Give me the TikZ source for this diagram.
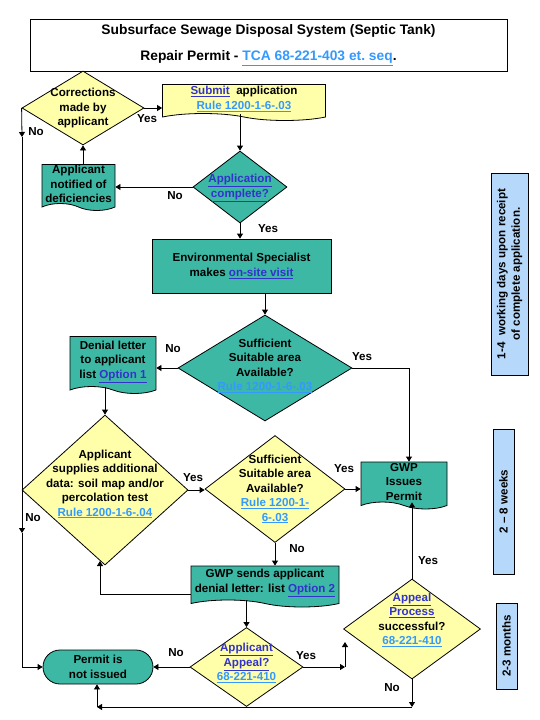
\documentclass[tikz,border=0pt]{standalone}
\usepackage{fontspec}
\setmainfont{Liberation Sans}
\usetikzlibrary{shapes.geometric,shapes.symbols,shapes.misc,arrows.meta}

\definecolor{tealbox}{RGB}{60,184,164}
\definecolor{yellowdia}{RGB}{255,255,170}
\definecolor{bluebar}{RGB}{182,216,250}
\definecolor{linkdark}{RGB}{51,51,204}
\definecolor{linklight}{RGB}{51,153,255}

\newcommand{\dlink}[1]{\textcolor{linkdark}{\underline{#1}}}
\newcommand{\llink}[1]{\textcolor{linklight}{\underline{#1}}}

\begin{document}
\begin{tikzpicture}[x=1pt,y=1pt,
    box/.style={draw=black, fill=tealbox, line width=0.8pt, align=center},
    doc/.style={tape, tape bend top=none, tape bend bottom=out and in, tape bend height=7pt,
                draw=black, fill=#1, line width=0.8pt, align=center},
    doc/.default=tealbox,
    ydia/.style={diamond, draw=black, fill=yellowdia, line width=0.8pt},
    tdia/.style={diamond, draw=black, fill=tealbox, line width=0.8pt},
    bar/.style={draw=black, fill=bluebar, line width=0.8pt, rotate=90, align=center},
    arr/.style={-{Triangle[length=5pt,width=6pt]}, line width=0.8pt}]
    \tikzstyle{every node}+=[inner sep=0pt, font=\bfseries\fontsize{11.6}{14.5}\selectfont]
    \useasboundingbox (0,0) rectangle (540,-720);

    \node [draw, line width=0.8pt, minimum width=477pt, minimum height=52pt, align=center,
           font=\bfseries\fontsize{13.8}{26}\selectfont] (title) at (268.5,-45)
          {Subsurface Sewage Disposal System (Septic Tank)\\Repair Permit - \llink{TCA 68-221-403 et.~seq}.};

    \node [ydia, minimum width=122pt, minimum height=74pt,
           label={[align=center]center:Corrections\\made by\\applicant}] (corr) at (83,-108) {};
    \node [doc=yellowdia, minimum width=163pt, minimum height=36pt] (sub) at (244,-99)
          {\dlink{Submit}\ \ application\\\llink{Rule 1200-1-6-.03}};
    \node [tdia, minimum width=94pt, minimum height=72pt,
           label={[align=center,yshift=-1pt]center:\dlink{Application}\\\dlink{complete?}}] (appc) at (240,-187) {};
    \node [doc, minimum width=73pt, minimum height=46pt] (notif) at (78.5,-184)
          {Applicant\\notified of\\deficiencies};
    \node [box, minimum width=179pt, minimum height=54pt] (env) at (241.5,-266)
          {Environmental Specialist\\makes \dlink{on-site visit}};
    \node [tdia, minimum width=174pt, minimum height=106pt,
           label={[align=center,yshift=2pt]center:Sufficient\\Suitable area\\Available?\\\llink{Rule 1200-1-6-.03}}] (suff) at (265,-368) {};
    \node [doc, minimum width=86pt, minimum height=57pt] (denial) at (113,-361.5)
          {Denial letter\\to applicant\\list \dlink{Option 1}};
    \node [ydia, minimum width=166pt, minimum height=150pt,
           label={[align=center,yshift=6pt]center:Applicant\\supplies additional\\data: soil map and/or\\percolation test\\\llink{Rule 1200-1-6-.04}}] (supply) at (105,-490) {};
    \node [ydia, minimum width=140pt, minimum height=107pt,
           label={[align=center]center:Sufficient\\Suitable area\\Available?\\\llink{Rule 1200-1-}\\\llink{6-.03}}] (suffb) at (275,-489) {};
    \node [doc, minimum width=86pt, minimum height=47pt] (issue) at (404,-482)
          {GWP\\Issues\\Permit};
    \node [doc, minimum width=148pt, minimum height=41pt] (send) at (265,-583)
          {GWP sends applicant\\denial letter: list \dlink{Option 2}};
    \node [ydia, minimum width=113pt, minimum height=79pt,
           label={[align=center,yshift=4pt]center:\dlink{Applicant}\\\dlink{Appeal?}\\\llink{68-221-410}}] (appeal) at (246.5,-667) {};
    \node [rounded rectangle, draw=black, fill=tealbox, line width=0.8pt, align=center,
           minimum width=110pt, minimum height=34pt] (permit) at (98,-667)
          {Permit is\\not issued};
    \node [ydia, minimum width=137pt, minimum height=100pt,
           label={[align=center,yshift=9pt]center:\dlink{Appeal}\\\dlink{Process}\\successful?\\\llink{68-221-410}}] (proc) at (412,-629) {};

    \node [bar, minimum width=202pt, minimum height=37pt] (days) at (509.5,-274)
          {1-4\ \ working days upon receipt\\of complete application.};
    \node [bar, minimum width=145pt, minimum height=21pt] (weeks) at (503.5,-501.5)
          {2 -- 8 weeks};
    \node [bar, minimum width=86pt, minimum height=21pt] (months) at (506.5,-646)
          {2-3 months};

    \coordinate (n1) at (22,-137);
    \coordinate (n2) at (22,-533);
    \coordinate (s1) at (100,-561);
    \coordinate (a1) at (345,-667);
    \coordinate (a2) at (345,-642);
    \coordinate (b1) at (412,-707);
    \coordinate (b2) at (97,-707);

    \draw [arr] (corr.east) -- (sub.west |- corr.east);
    \node (yescs) at (147,-119) {Yes};
    \draw [arr] (appc.north |- sub.south) -- (appc.north);
    \draw [arr] (appc.west) -- (notif.east |- appc.west);
    \node (noan) at (175,-196) {No};
    \draw [arr] (corr.south |- notif.north) -- (corr.south);
    \draw [arr] (corr.west) -- (n1);
    \node (nocl) at (36,-132) {No};
    \draw [arr] (n1) -- (n2);
    \draw [arr] (n2) |- (permit.west);
    \node (nosl) at (33,-518) {No};
    \draw [arr] (appc.south) -- (env.north -| appc.south);
    \node (yesae) at (268,-229) {Yes};
    \draw [arr] (suff.north |- env.south) -- (suff.north);
    \draw [arr] (suff.west) -- (denial.east |- suff.west);
    \node (nosd) at (173,-349) {No};
    \draw [arr] (suff.east) -| ([xshift=5pt]issue.north);
    \node (yessi) at (362,-357) {Yes};
    \draw [arr] (supply.north |- denial.south) -- (supply.north);
    \draw [arr] (supply.east) -- (suffb.west |- supply.east);
    \node (yesss) at (193,-478) {Yes};
    \draw [arr] (suffb.east) -- (issue.west |- suffb.east);
    \node (yessg) at (344,-469) {Yes};
    \draw [arr] (suffb.south) -- (send.north -| suffb.south);
    \node (nosg) at (297,-549) {No};
    \draw [arr] ([yshift=-11pt]send.west) -| (s1);
    \draw [arr] (appeal.north |- send.south) -- (appeal.north);
    \draw [arr] (appeal.west) -- (permit.east);
    \node (noap) at (176,-653) {No};
    \draw [arr] (appeal.east) -- (a1);
    \draw [arr] (a1) -- (a2);
    \node (yesap) at (306,-656) {Yes};
    \draw [arr] (proc.north) -- (issue.south -| proc.north);
    \node (yespi) at (428,-561) {Yes};
    \draw [arr] (proc.south) -- (b1);
    \draw [arr] (b1) -- (b2);
    \draw [arr] (b2) -- (permit.south -| b2);
    \node (nopp) at (392,-688) {No};
\end{tikzpicture}
\end{document}
